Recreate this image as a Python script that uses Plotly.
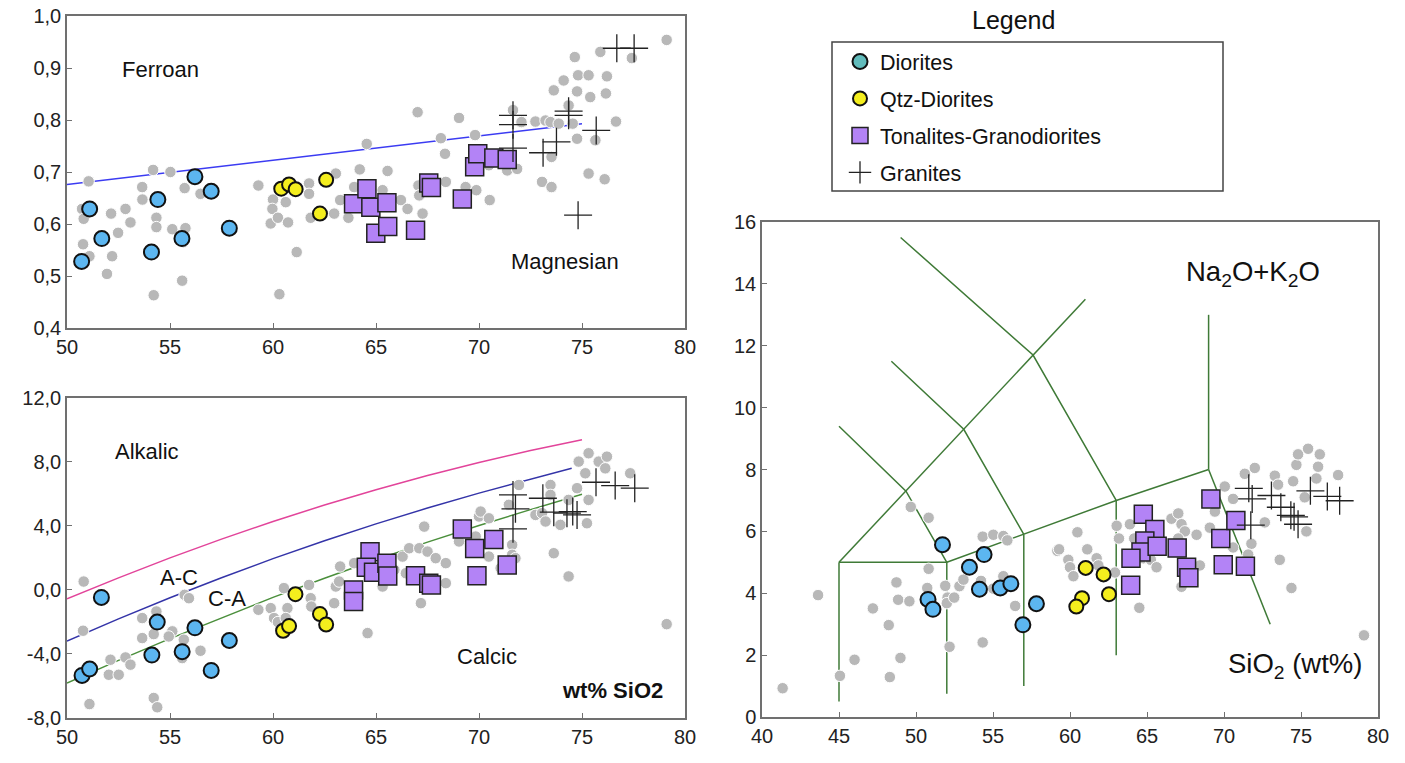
import plotly.graph_objects as go

W, H = 1405, 763

# ---------------- Panel 1: FeO/(FeO+MgO) vs SiO2 ----------------
fe_grey_x = [51.05,50.73,50.81,50.78,51.09,51.94,52.14,52.19,52.48,52.84,53.08,53.65,53.66,54.18,54.21,54.34,54.34,55.02,55.11,55.59,55.71,55.75,55.64,56.48,59.29,60.00,59.97,59.89,60.24,60.62,60.73,61.15,60.31,61.75,61.75,61.83,63.05,63.26,62.97,63.66,63.94,64.21,64.55,
             67.02,69.03,68.15,68.35,69.81,65.56,67.06,66.21,66.53,67.10,67.26,66.77,68.39,69.35,69.87,70.52,64.76,65.32,70.48,71.37,71.85,71.65,72.06,72.74,73.23,73.47,73.87,73.06,73.52,73.52,73.63,74.11,74.65,74.81,75.32,74.76,75.40,74.35,74.55,74.76,75.65,76.21,76.16,75.89,76.65,75.32,76.10,77.42,79.11]
fe_grey_y = [0.682,0.629,0.610,0.561,0.538,0.504,0.620,0.538,0.583,0.629,0.603,0.671,0.647,0.704,0.463,0.612,0.594,0.700,0.590,0.491,0.669,0.592,0.565,0.658,0.674,0.647,0.629,0.601,0.612,0.642,0.603,0.546,0.465,0.678,0.658,0.612,0.697,0.646,0.620,0.612,0.671,0.705,0.754,
             0.815,0.804,0.765,0.735,0.771,0.702,0.674,0.646,0.629,0.655,0.620,0.581,0.681,0.671,0.665,0.646,0.662,0.665,0.713,0.703,0.706,0.819,0.796,0.797,0.799,0.796,0.793,0.681,0.671,0.729,0.857,0.876,0.921,0.886,0.886,0.855,0.844,0.828,0.793,0.764,0.761,0.884,0.851,0.931,0.797,0.697,0.686,0.919,0.954]
fe_dio_x = [50.71,51.10,51.69,54.10,54.41,55.58,56.21,57.00,57.88]
fe_dio_y = [0.528,0.629,0.572,0.546,0.647,0.572,0.691,0.663,0.592]
fe_qtz_x = [60.40,60.78,61.10,62.58,62.28]
fe_qtz_y = [0.668,0.676,0.667,0.685,0.620]
fe_ton_x = [63.91,64.56,64.75,65.53,64.99,65.57,66.92,67.56,67.69,69.19,69.79,69.94,70.72,71.37]
fe_ton_y = [0.639,0.668,0.632,0.641,0.582,0.595,0.588,0.679,0.670,0.648,0.710,0.735,0.727,0.724]
fe_gra_x = [76.69,77.53,71.65,71.65,71.65,73.11,73.76,74.35,74.35,75.69,74.81]
fe_gra_y = [0.938,0.938,0.809,0.791,0.746,0.737,0.758,0.817,0.809,0.780,0.617]
fe_line_x = [50.0, 75.0]
fe_line_y = [0.676, 0.793]

# ---------------- Panel 2: MALI vs SiO2 ----------------
mali_grey_x = [50.81,50.78,51.09,52.11,52.03,52.51,52.84,53.08,53.65,53.65,54.21,54.34,54.34,54.21,54.38,55.11,54.94,55.71,55.92,55.67,55.59,56.48,59.29,59.89,60.05,60.24,60.70,60.62,60.53,61.75,61.83,61.86,62.97,63.05,63.21,63.26,63.94,64.59,
               67.34,66.29,66.61,67.10,67.50,67.90,68.39,66.45,68.39,67.18,65.32,65.40,65.89,69.03,69.84,70.00,70.08,70.48,70.48,71.05,71.61,71.61,71.77,71.45,71.94,72.74,73.06,73.47,73.47,73.23,73.63,73.95,74.35,74.76,74.84,75.16,75.32,75.81,76.21,76.13,75.32,75.24,74.35,77.34,79.11]
mali_grey_y = [0.52,-2.55,-7.13,-4.36,-5.30,-5.30,-4.22,-4.67,-1.76,-3.01,-2.76,-1.35,-1.97,-6.75,-7.33,-2.59,-2.91,-0.31,-0.52,-3.11,-4.26,-3.80,-1.24,-1.14,-1.76,-2.01,-1.14,-1.76,0.11,0.31,-0.52,-1.04,-0.83,0.21,0.52,1.46,1.67,-2.70,
               3.95,2.08,2.60,2.60,2.39,1.98,1.67,1.04,0.42,-0.83,0.21,0.84,1.25,3.02,3.33,4.58,4.89,4.47,2.08,1.36,2.81,2.19,1.98,5.31,6.55,4.68,4.79,6.55,5.93,4.27,2.29,4.06,5.62,6.35,8.01,7.28,8.53,8.01,8.32,7.59,5.62,4.16,0.84,7.28,-2.14]
mali_dio_x = [51.67,50.73,51.10,54.38,54.12,55.59,56.21,57.00,57.88]
mali_dio_y = [-0.47,-5.34,-4.94,-2.01,-4.07,-3.86,-2.37,-5.03,-3.16]
mali_qtz_x = [61.09,60.49,60.78,62.28,62.58]
mali_qtz_y = [-0.27,-2.55,-2.26,-1.51,-2.16]
mali_ton_x = [63.91,63.91,64.71,64.53,64.88,65.53,65.57,66.92,67.56,67.69,69.19,69.79,69.90,70.72,71.37]
mali_ton_y = [0.00,-0.73,2.38,1.41,1.10,1.66,0.87,0.89,0.41,0.31,3.80,2.59,0.89,3.15,1.55]
mali_gra_x = [71.65,71.77,71.65,73.10,73.63,74.27,74.55,74.76,75.68,76.61,77.56]
mali_gra_y = [5.93,5.06,3.81,5.72,4.85,4.79,4.89,4.68,6.72,6.51,6.35]
# boundary curves
alk_x = [50,52.5,55,57.5,60,62.5,65,67.5,70,72.5,75]
alk_y = [-0.56,0.75,2.00,3.17,4.27,5.30,6.25,7.14,7.95,8.70,9.37]
ac_x = [50,52.5,55,57.5,60,62.5,65,67.5,70,72.5,74.5]
ac_y = [-3.20,-1.81,-0.49,0.76,1.95,3.07,4.12,5.11,6.04,6.90,7.60]
ca_x = [50,52.5,55,57.5,60,62.5,65,67.5,70,72.5,75]
ca_y = [-5.82,-4.40,-3.04,-1.73,-0.47,0.73,1.88,2.98,4.02,5.01,5.97]

# ---------------- Panel 3: TAS ----------------
tas_grey_x = [41.34,43.64,45.06,46.01,47.20,48.23,48.30,48.73,48.84,48.99,49.57,49.66,50.82,50.82,50.73,51.90,52.05,52.00,52.48,52.18,52.82,53.08,54.22,54.33,54.33,55.02,55.02,55.67,55.67,55.93,56.44,59.18,
              59.29,59.89,60.00,60.22,60.48,61.12,61.73,61.84,62.92,63.03,63.18,63.89,64.17,64.50,64.76,65.25,65.62,66.59,67.03,67.24,67.46,67.03,68.22,68.43,67.24,69.08,69.41,70.05,70.59,70.59,71.35,72.00,71.78,71.57,72.65,73.30,73.51,73.62,74.38,74.49,74.70,74.81,75.46,76.22,76.11,76.00,75.24,75.35,77.41,79.09]
tas_grey_y = [0.93,3.94,1.33,1.85,3.51,2.97,1.29,4.35,3.79,1.91,3.74,6.79,6.44,4.79,4.17,4.24,3.86,3.68,3.86,2.27,4.23,4.44,4.40,5.83,2.41,5.89,4.15,5.85,4.55,5.71,3.59,5.37,
              5.42,5.08,4.84,4.55,5.97,5.42,5.13,4.90,4.67,6.18,5.77,6.23,5.77,3.53,5.13,5.08,4.84,6.41,6.58,6.23,6.00,5.77,5.89,4.90,4.21,6.12,6.64,7.45,7.05,5.48,7.86,8.05,5.60,5.25,6.29,7.80,7.51,5.08,4.17,7.62,8.15,8.49,8.67,8.49,8.09,7.71,7.10,6.00,7.82,2.64]
tas_dio_x = [50.78,51.10,51.72,53.47,54.12,54.42,55.47,56.16,56.94,57.82]
tas_dio_y = [3.80,3.48,5.57,4.84,4.13,5.25,4.17,4.31,2.98,3.66]
tas_qtz_x = [61.02,62.18,62.53,60.78,60.41]
tas_qtz_y = [4.82,4.61,3.97,3.84,3.57]
tas_ton_x = [69.15,64.76,65.51,64.86,64.61,63.96,65.66,66.96,67.57,67.72,63.94,69.79,70.77,69.95,71.39]
tas_ton_y = [7.05,6.55,6.06,5.69,5.33,5.13,5.52,5.46,4.84,4.50,4.26,5.77,6.35,4.92,4.87]
tas_gra_x = [71.61,71.83,71.74,73.08,73.69,74.34,74.55,74.81,75.61,76.71,77.51]
tas_gra_y = [7.39,7.05,6.20,7.16,6.78,6.52,6.47,6.23,7.31,7.13,6.99]
# TAS field boundaries (polylines separated by None)
tas_line_x = [45,45,None,45,52,None,52,52,None,45,61,None,45,49.35,52,None,48.4,53.1,57,None,
              49,57.6,63,None,52,57,63,69,None,57,57,None,63,63,None,69,69,None,69,73]
tas_line_y = [0.5,5,None,5,5,None,0.75,5,None,5,13.5,None,9.4,7.3,5,None,11.5,9.3,5.9,None,
              15.5,11.7,7.0,None,5,5.9,7.0,8.0,None,1.0,5.9,None,2.0,7.0,None,8.0,13.0,None,8.0,3.0]

legend_names = ["Diorites", "Qtz-Diorites", "Tonalites-Granodiorites", "Granites"]

# ---------------- styles ----------------
FONT = "Liberation Sans, Arial, sans-serif"
GREY = dict(color="#b8b8b8", size=11.5, line=dict(color="white", width=1))
DIO = dict(color="#5cb6f0", size=15, symbol="circle", line=dict(color="#111", width=2))
QTZ = dict(color="#f4ee1e", size=14, symbol="circle", line=dict(color="#111", width=2))
TON = dict(color="#b383f6", size=18, symbol="square", line=dict(color="#222", width=1.5))
GRA = dict(color="#222", size=20, symbol="cross-thin", line=dict(color="#222", width=1.3))

fig = go.Figure()

def pts(x, y, marker, xa, ya):
    fig.add_trace(go.Scatter(x=x, y=y, mode="markers", marker=marker, xaxis=xa, yaxis=ya,
                             showlegend=False, hoverinfo="x+y"))

def line(x, y, color, xa, ya, width=1.5):
    fig.add_trace(go.Scatter(x=x, y=y, mode="lines", line=dict(color=color, width=width),
                             xaxis=xa, yaxis=ya, showlegend=False, hoverinfo="skip"))

# panel 1
line(fe_line_x, fe_line_y, "#3b3bf2", "x", "y")
pts(fe_grey_x, fe_grey_y, GREY, "x", "y")
pts(fe_dio_x, fe_dio_y, DIO, "x", "y")
pts(fe_qtz_x, fe_qtz_y, QTZ, "x", "y")
pts(fe_ton_x, fe_ton_y, TON, "x", "y")
pts(fe_gra_x, fe_gra_y, GRA, "x", "y")
# panel 2
line(alk_x, alk_y, "#e2449a", "x2", "y2")
line(ac_x, ac_y, "#3434a8", "x2", "y2")
line(ca_x, ca_y, "#4b8f3c", "x2", "y2")
pts(mali_grey_x, mali_grey_y, GREY, "x2", "y2")
pts(mali_dio_x, mali_dio_y, DIO, "x2", "y2")
pts(mali_qtz_x, mali_qtz_y, QTZ, "x2", "y2")
pts(mali_ton_x, mali_ton_y, TON, "x2", "y2")
pts(mali_gra_x, mali_gra_y, GRA, "x2", "y2")
# panel 3
line(tas_line_x, tas_line_y, "#3f7a37", "x3", "y3")
pts(tas_grey_x, tas_grey_y, GREY, "x3", "y3")
pts(tas_dio_x, tas_dio_y, DIO, "x3", "y3")
pts(tas_qtz_x, tas_qtz_y, QTZ, "x3", "y3")
pts(tas_ton_x, tas_ton_y, TON, "x3", "y3")
pts(tas_gra_x, tas_gra_y, GRA, "x3", "y3")

# legend entries
leg_markers = [dict(DIO, color="#62bcbc"), QTZ, dict(TON, size=18), dict(GRA, size=20)]
for i, (nm, mk) in enumerate(zip(legend_names, leg_markers)):
    fig.add_trace(go.Scatter(x=[None], y=[None], mode="markers", marker=mk, name=nm,
                             legendgroup=f"g{i}", xaxis="x", yaxis="y"))

def px_x(p):
    return p / W

def px_y(p):
    return 1 - p / H

AX = dict(showgrid=False, zeroline=False, showline=True, mirror=True, linecolor="#707070",
          linewidth=1.5, ticks="inside", ticklen=5, tickcolor="#707070", tickwidth=1,
          automargin=False,
          tickfont=dict(family=FONT, size=20, color="#222"), fixedrange=True)

fig.update_layout(
    width=W, height=H, margin=dict(l=0, r=0, t=0, b=0, autoexpand=False),
    paper_bgcolor="white", plot_bgcolor="white",
    font=dict(family=FONT, color="#111"),
    xaxis=dict(AX, domain=[px_x(67), px_x(685)], range=[50, 80], tickvals=[50,55,60,65,70,75,80],
               anchor="y"),
    yaxis=dict(AX, domain=[px_y(328), px_y(16)], range=[0.4, 1.0],
               tickvals=[0.4,0.5,0.6,0.7,0.8,0.9,1.0],
               ticktext=["0,4","0,5","0,6","0,7","0,8","0,9","1,0"], anchor="x"),
    xaxis2=dict(AX, domain=[px_x(67), px_x(685)], range=[50, 80], tickvals=[50,55,60,65,70,75,80],
                anchor="y2"),
    yaxis2=dict(AX, domain=[px_y(718), px_y(397.7)], range=[-8, 12],
                tickvals=[-8,-4,0,4,8,12], ticktext=["-8,0","-4,0","0,0","4,0","8,0","12,0"],
                anchor="x2"),
    xaxis3=dict(AX, domain=[px_x(762), px_x(1378)], range=[40, 80],
                tickvals=[40,45,50,55,60,65,70,75,80], anchor="y3"),
    yaxis3=dict(AX, domain=[px_y(717), px_y(222)], range=[0, 16],
                tickvals=[0,2,4,6,8,10,12,14,16], anchor="x3"),
    showlegend=True,
    legend=dict(x=px_x(840), y=px_y(41), xanchor="left", yanchor="top",
                bgcolor="rgba(0,0,0,0)", borderwidth=0,
                font=dict(family=FONT, size=21.5, color="#111"),
                tracegroupgap=6, traceorder="grouped"),
)

# legend frame and title
fig.add_shape(type="rect", xref="paper", yref="paper", x0=px_x(832), x1=px_x(1223),
              y0=px_y(191), y1=px_y(42), line=dict(color="#444", width=1.5))

def ann(text, x, y, xref, yref, size=22, bold=False, xanchor="center"):
    fig.add_annotation(text=f"<b>{text}</b>" if bold else text, x=x, y=y, xref=xref, yref=yref,
                       showarrow=False, xanchor=xanchor, yanchor="middle",
                       font=dict(family=FONT, size=size, color="#111"))

ann("Legend", px_x(1013), px_y(20), "paper", "paper", size=25)
ann("Ferroan", 54.54, 0.897, "x", "y")
ann("Magnesian", 74.19, 0.528, "x", "y")
ann("Alkalic", 53.89, 8.67, "x2", "y2")
ann("A-C", 55.43, 0.77, "x2", "y2")
ann("C-A", 57.78, -0.52, "x2", "y2")
ann("Calcic", 70.40, -4.15, "x2", "y2")
ann("wt% SiO2", 76.5, -6.30, "x2", "y2", size=22, bold=True)
ann("Na<sub>2</sub>O+K<sub>2</sub>O", 71.89, 14.35, "x3", "y3", size=27.5)
ann("SiO<sub>2</sub> (wt%)", 74.6, 1.66, "x3", "y3", size=27.5)

fig.write_html("out.html", config={"displayModeBar": False},
               post_script="document.body.style.margin='0';document.body.style.overflow='hidden';")
